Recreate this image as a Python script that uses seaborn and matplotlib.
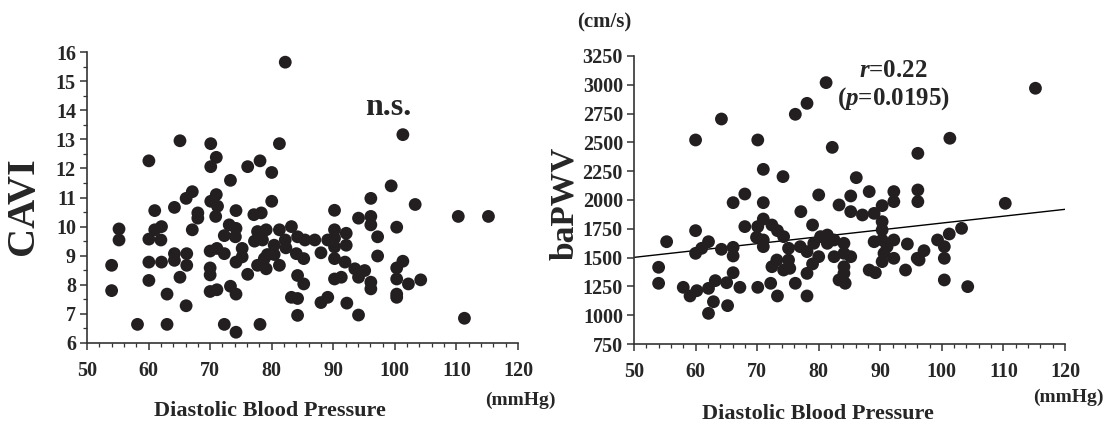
import matplotlib
matplotlib.use("Agg")
import matplotlib.pyplot as plt
import seaborn as sns
import pandas as pd
from matplotlib.ticker import MultipleLocator

# ---------------- data ----------------
cavi_dbp = [82.2, 65.1, 70.1, 81.25, 60.05, 71.0, 70.1, 76.1, 78.1, 80.0, 73.3, 67.1, 66.1, 71.0, 70.1, 71.2, 70.9,
            80.0, 61.0, 64.2, 68.0, 68.0, 74.2, 77.1, 78.3, 55.2, 55.2, 60.05, 61.0, 62.1, 62.0, 67.1, 73.1, 74.2,
            72.3, 74.1, 77.7, 79.1, 81.25, 83.2, 77.2, 78.5, 82.2, 80.4, 82.3, 84.2, 85.4, 87.0, 89.1, 54.0, 54.0,
            60.05, 62.1, 64.2, 64.2, 66.2, 66.2, 70.0, 71.1, 72.3, 75.2, 75.2, 74.2, 79.3, 80.4, 78.8, 77.7, 79.1,
            81.25, 84.0, 85.2, 88.0, 70.0, 70.0, 60.05, 65.1, 63.0, 66.1, 76.1, 70.0, 71.1, 73.3, 74.2, 84.2, 85.2,
            83.2, 84.2, 84.2, 88.0, 89.1, 58.2, 63.0, 72.3, 78.1, 74.2,
            101.3, 99.4, 96.1, 103.3, 90.2, 110.3, 115.2, 94.1, 96.1, 96.1, 100.3, 97.2, 90.2, 90.2, 92.1, 92.1,
            90.2, 90.2, 91.9, 93.5, 95.1, 94.1, 97.2, 101.3, 100.3, 100.3, 102.2, 104.2, 90.2, 91.3, 96.1, 96.1,
            100.3, 100.3, 92.2, 94.1, 111.3]
cavi_val = [15.65, 12.95, 12.85, 12.85, 12.26, 12.38, 12.06, 12.06, 12.26, 11.86, 11.59, 11.2, 10.97, 11.1, 10.87,
            10.7, 10.35, 10.87, 10.55, 10.66, 10.47, 10.29, 10.55, 10.41, 10.47, 9.92, 9.54, 9.57, 9.89, 10.0, 9.54,
            9.89, 10.06, 9.94, 9.69, 9.65, 9.83, 9.89, 9.89, 10.0, 9.5, 9.54, 9.54, 9.36, 9.27, 9.65, 9.54, 9.54,
            9.54, 8.67, 7.8, 8.78, 8.78, 9.07, 8.84, 9.07, 8.67, 9.16, 9.25, 9.07, 9.25, 8.96, 8.78, 9.04, 9.04, 8.9,
            8.67, 8.55, 8.67, 9.07, 8.9, 9.1, 8.58, 8.34, 8.15, 8.26, 7.68, 7.28, 8.36, 7.77, 7.83, 7.95, 7.68, 8.32,
            8.03, 7.57, 7.53, 6.95, 7.39, 7.57, 6.64, 6.64, 6.64, 6.64, 6.37,
            13.16, 11.4, 10.97, 10.76, 10.56, 10.35, 10.35, 10.29, 10.35, 10.06, 9.98, 9.65, 9.89, 9.6, 9.77, 9.36,
            9.3, 8.9, 8.78, 8.55, 8.49, 8.26, 8.99, 8.81, 8.58, 8.2, 8.03, 8.17, 8.2, 8.26, 8.09, 7.86,
            7.68, 7.57, 7.37, 6.96, 6.85]

pwv_dbp = [55.3, 54.0, 54.0, 60.0, 64.2, 60.0, 60.0, 61.0, 62.1, 64.2, 66.1, 68.0, 68.0, 66.1, 66.1, 66.1, 65.05,
           63.2, 62.1, 58.0, 59.1, 60.2, 62.9, 62.1, 65.2, 67.2, 70.1, 71.0, 74.2, 76.2, 78.1, 81.2, 71.0, 70.1,
           71.0, 69.9, 71.0, 71.0, 72.4, 73.3, 74.3, 75.1, 75.1, 72.4, 73.2, 74.3, 75.3, 72.2, 73.3, 70.1, 76.2,
           77.1, 79.0, 80.0, 77.0, 78.1, 79.2, 80.3, 81.4, 81.4, 80.0, 79.0, 78.1, 78.1, 82.2,
           115.2, 101.3, 96.1, 86.1, 88.2, 92.2, 92.2, 96.1, 96.1, 85.2, 83.3, 85.2, 87.1, 89.0, 90.3, 90.3, 90.3,
           110.3, 82.5, 84.1, 82.5, 84.1, 85.2, 84.1, 84.1, 83.3, 84.3, 89.0, 90.3, 91.1, 92.2, 94.4, 90.6, 92.2,
           90.3, 88.2, 89.2, 94.1, 96.0, 97.1, 96.3, 99.3, 100.4, 100.4, 101.2, 103.2, 100.4, 104.2]
pwv_val = [1638, 1416, 1277, 2521, 2703, 1734, 1537, 1581, 1638, 1572, 1977, 2052, 1769, 1589, 1514, 1369, 1282,
           1300, 1233, 1242, 1167, 1213, 1117, 1016, 1083, 1242, 2521, 2266, 2203, 2744, 2839, 3019, 1977, 1769,
           1835, 1676, 1595, 1653, 1783, 1734, 1682, 1581, 1479, 1421, 1479, 1392, 1407, 1277, 1167, 1242, 1277,
           1899, 1783, 2044, 1595, 1552, 1624, 1682, 1696, 1624, 1508, 1445, 1363, 1167, 2457,
           2970, 2536, 2405, 2194, 2073, 2073, 1986, 2087, 1986, 2035, 1957, 1899, 1870, 1884, 1951, 1812, 1740,
           1971, 1653, 1624, 1508, 1537, 1508, 1421, 1363, 1306, 1277, 1638, 1653, 1595, 1653, 1618, 1537, 1494,
           1465, 1392, 1369, 1392, 1494, 1560, 1479, 1653, 1595, 1494, 1705, 1754, 1306, 1248]

fit_x = [50, 120]
fit_y = [1502, 1919]

x_ticks = [50, 60, 70, 80, 90, 100, 110, 120]
cavi_ticks = [6, 7, 8, 9, 10, 11, 12, 13, 14, 15, 16]
pwv_ticks = [750, 1000, 1250, 1500, 1750, 2000, 2250, 2500, 2750, 3000, 3250]

# ---------------- style ----------------
sns.set_theme(style="ticks")
plt.rcParams["font.family"] = ["Liberation Serif", "DejaVu Serif"]
plt.rcParams["font.weight"] = "bold"
plt.rcParams["mathtext.fontset"] = "custom"
plt.rcParams["mathtext.rm"] = "Liberation Serif:bold"
plt.rcParams["mathtext.it"] = "Liberation Serif:italic"
plt.rcParams["mathtext.bf"] = "Liberation Serif:bold"

DOT = "#231f20"
fig = plt.figure(figsize=(11.17, 4.30), dpi=100)
W, H = 1117, 430

def px_axes(x0, y_top, x1, y_bot):
    return fig.add_axes([x0 / W, (H - y_bot) / H, (x1 - x0) / W, (y_bot - y_top) / H])

def ftext(x, y, s, **kw):
    return fig.text(x / W, 1 - y / H, s, **kw)

ax1 = px_axes(87, 52, 518, 343)
ax2 = px_axes(634, 56, 1065, 344)

df1 = pd.DataFrame({"dbp": cavi_dbp, "cavi": cavi_val})
df2 = pd.DataFrame({"dbp": pwv_dbp, "pwv": pwv_val})
sns.scatterplot(data=df1, x="dbp", y="cavi", ax=ax1, s=85, color=DOT, edgecolor="none", linewidth=0, zorder=3)
sns.scatterplot(data=df2, x="dbp", y="pwv", ax=ax2, s=85, color=DOT, edgecolor="none", linewidth=0, zorder=3)
sns.lineplot(x=fit_x, y=fit_y, ax=ax2, color="black", linewidth=1.0, zorder=2)

for ax, yt, ylim in [(ax1, cavi_ticks, (6, 16)), (ax2, pwv_ticks, (750, 3250))]:
    ax.set_xlim(50, 120)
    ax.set_ylim(*ylim)
    ax.set_xticks(x_ticks)
    ax.set_yticks(yt)
    ax.xaxis.set_minor_locator(MultipleLocator(2))
    for s in ["top", "right"]:
        ax.spines[s].set_visible(False)
    for s in ["left", "bottom"]:
        ax.spines[s].set_color("#333333")
        ax.spines[s].set_linewidth(1.2)
    ax.tick_params(which="major", direction="out", length=5, width=1.1, color="#333333",
                   labelsize=14.5, pad=3)
    ax.tick_params(which="minor", direction="out", length=3, width=0.9, color="#333333")
    ax.tick_params(axis="x", pad=8)
    for lab in ax.get_xticklabels() + ax.get_yticklabels():
        lab.set_fontweight("bold")
    ax.set_xlabel("")
    ax.set_ylabel("")
    ax.set_facecolor("white")

ax1.yaxis.set_minor_locator(MultipleLocator(0.5))

# labels
ftext(270, 411, "Diastolic Blood Pressure", ha="center", va="center", fontsize=16, fontweight="bold")
ftext(818, 414, "Diastolic Blood Pressure", ha="center", va="center", fontsize=16, fontweight="bold")
ftext(520, 400, "(mmHg)", ha="center", va="center", fontsize=14, fontweight="bold")
ftext(1068, 397, "(mmHg)", ha="center", va="center", fontsize=14, fontweight="bold")
ftext(24, 206, "CAVI", ha="center", va="center", rotation=90, fontsize=29, fontweight="bold")
ftext(565, 203, "baPWV", ha="center", va="center", rotation=90, fontsize=24, fontweight="bold")
ftext(604, 22, "(cm/s)", ha="center", va="center", fontsize=15, fontweight="bold")
ftext(388, 115, "n.s.", ha="center", va="baseline", fontsize=23, fontweight="bold")
ftext(893, 77, r"$\mathit{r}$=0.22", ha="center", va="baseline", fontsize=18, fontweight="bold")
ftext(894, 105, r"($\mathit{p}$=0.0195)", ha="center", va="baseline", fontsize=18, fontweight="bold")

fig.savefig("out.png", dpi=100, facecolor="white")
